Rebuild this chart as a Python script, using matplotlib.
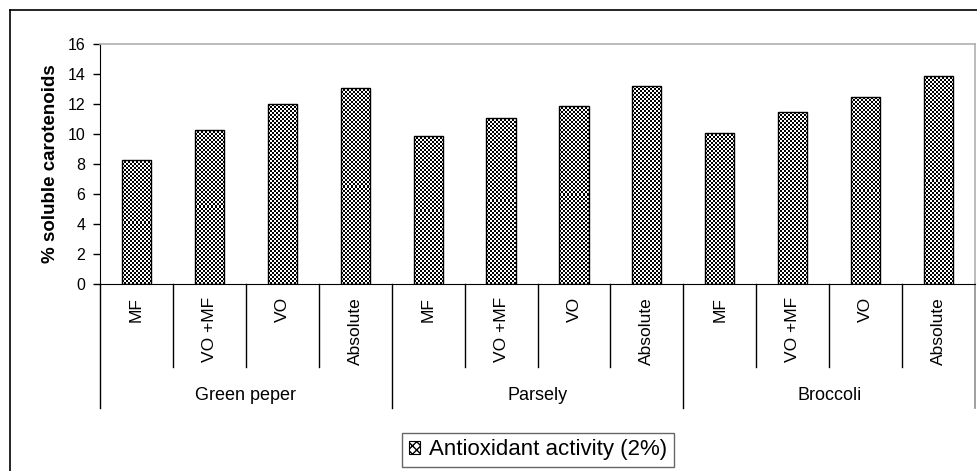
import matplotlib
matplotlib.use("Agg")
import matplotlib.pyplot as plt
import numpy as np
from matplotlib.patches import Patch
from matplotlib.lines import Line2D

plt.rcParams['font.family'] = ['Liberation Sans', 'DejaVu Sans']

groups = ['Green peper', 'Parsely', 'Broccoli']
treatments = ['MF', 'VO +MF', 'VO', 'Absolute']
green_peper = [8.3, 10.3, 12.0, 13.1]
parsely = [9.9, 11.1, 11.9, 13.2]
broccoli = [10.1, 11.45, 12.45, 13.9]
series_label = 'Antioxidant activity (2%)'
yticks = [0, 2, 4, 6, 8, 10, 12, 14, 16]

values = green_peper + parsely + broccoli
labels = treatments * len(groups)

W, H = 977, 471
fig = plt.figure(figsize=(W / 100, H / 100), dpi=100)
ax = fig.add_axes([100 / W, 1 - 284 / H, 875 / W, 240 / H])

x = np.arange(len(values))
bw = 0.4
bars = ax.bar(x, values, width=bw, color='white', edgecolor='none', zorder=2)

# checkerboard texture clipped to each bar
px_per_x = 875 / 12
px_per_y = 240 / 16
cell = 2.0
for xi, v, b in zip(x, values, bars):
    ncol = max(1, int(round(bw * px_per_x / cell)))
    nrow = max(1, int(round(v * px_per_y / cell)))
    arr = (np.add.outer(np.arange(nrow), np.arange(ncol)) % 2).astype(float)
    im = ax.imshow(arr, cmap='gray', vmin=0, vmax=1, extent=(xi - bw / 2, xi + bw / 2, 0, v),
                   aspect='auto', interpolation='nearest', zorder=2.5)
    im.set_clip_path(b)
ax.bar(x, values, width=bw, fill=False, edgecolor='black', linewidth=1.0, zorder=3)

ax.set_xlim(-0.5, len(values) - 0.5)
ax.set_ylim(0, 16)
ax.set_yticks(yticks)
ax.tick_params(axis='y', direction='out', length=5, width=1, labelsize=11.5, pad=5.5)
ax.set_xticks([])

for s in ['top', 'right']:
    ax.spines[s].set_color('#b0b0b0')
    ax.spines[s].set_linewidth(1.2)
ax.spines['left'].set_color('black')
ax.spines['bottom'].set_color('black')

ax.set_ylabel('% soluble carotenoids', fontsize=13.5, fontweight='bold', labelpad=6)

trans = ax.get_xaxis_transform()
# category labels
for xi, lab in zip(x, labels):
    ax.text(xi, -0.055, lab, rotation=90, ha='center', va='top', fontsize=12.5,
            transform=trans, clip_on=False)
# category dividers
for k in range(1, len(values)):
    if k % 4 == 0:
        continue
    ax.plot([k - 0.5, k - 0.5], [0, -0.346], color='black', lw=1, transform=trans, clip_on=False)
# group dividers
for k in range(0, len(values) + 1, 4):
    last = k == len(values)
    ax.plot([k - 0.5, k - 0.5], [0, -0.517], color='#909090' if last else 'black',
            lw=1.2 if last else 1, transform=trans, clip_on=False)
# group labels
for g, name in enumerate(groups):
    ax.text(g * 4 + 1.5, -0.4625, name, ha='center', va='center', fontsize=13,
            transform=trans, clip_on=False)

handle = Patch(facecolor='white', edgecolor='black', hatch='xxxx', linewidth=0.8)
leg = fig.legend([handle], [series_label], loc='center',
                 bbox_to_anchor=(538 / W, 1 - 450 / H), fontsize=16, frameon=True,
                 fancybox=False, edgecolor='#404040', handlelength=0.5, handleheight=0.5,
                 handletextpad=0.4, borderpad=0.3)
leg.get_frame().set_linewidth(1)

# outer chart border (left and top visible)
fig.add_artist(Line2D([10 / W, 10 / W], [0, 1 - 10 / H], color='black', lw=1.2))
fig.add_artist(Line2D([10 / W, 1], [1 - 10 / H, 1 - 10 / H], color='black', lw=1.2))

fig.savefig('out.png', dpi=100)
